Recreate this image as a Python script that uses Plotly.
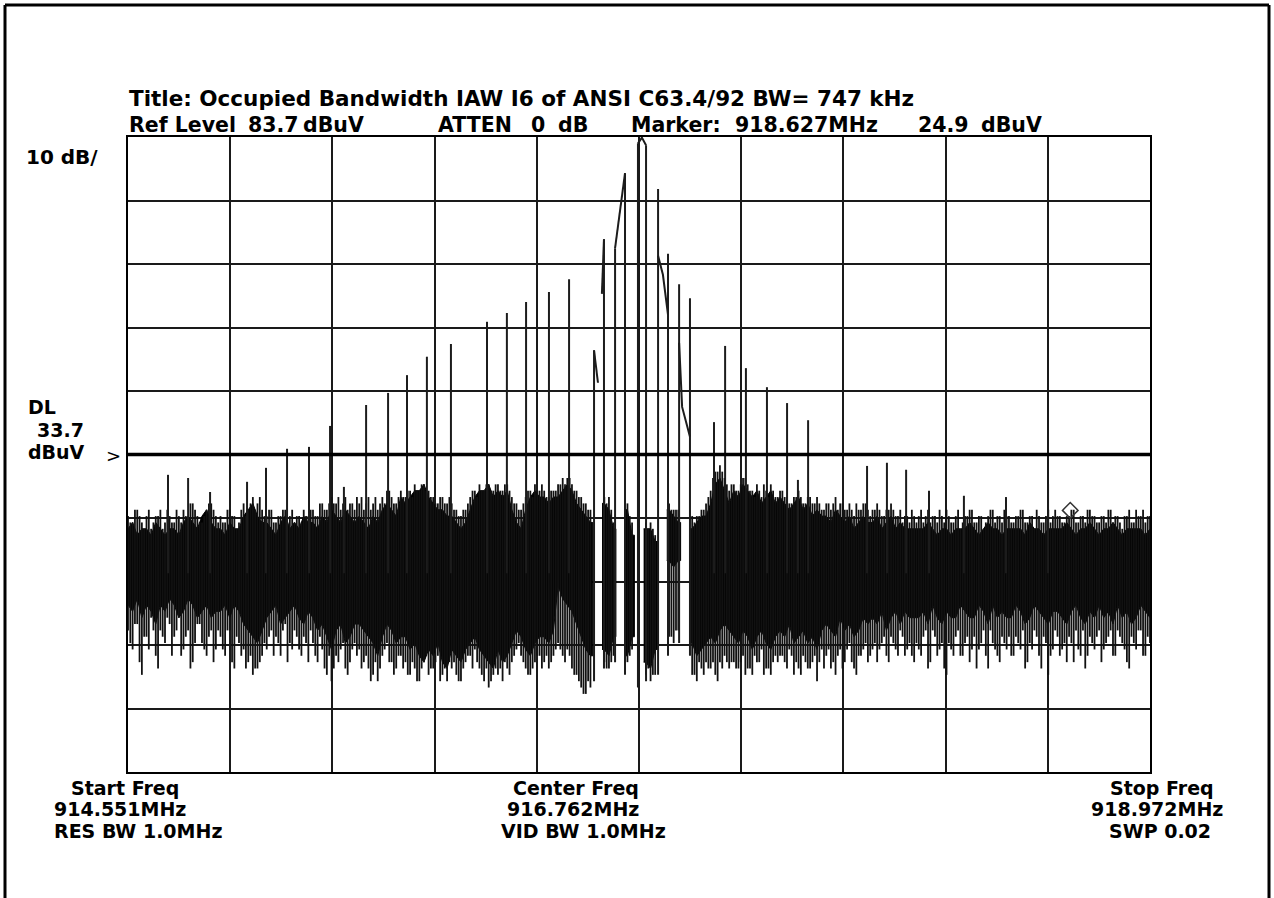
import numpy as np
import plotly.graph_objects as go

# ---------------- instrument settings ----------------
START_MHZ = 914.551
CENTER_MHZ = 916.762
STOP_MHZ = 918.972
REF_LEVEL = 83.7          # dBuV, top of screen
DB_PER_DIV = 10
DISPLAY_LINE = 33.7       # dBuV
MARKER_MHZ = 918.627
MARKER_DB = 24.9

# ---------------- noise floor, per sweep column (dBuV) ----------------
# fuzz peaks / valleys at each sweep column
noise_hi = [24, 23, 25, 23, 24, 22, 24, 25, 23, 24,
            23, 24, 25, 24, 26, 24, 23, 25, 26, 24,
            24, 23, 25, 24, 23, 26, 25, 27, 26, 25,
            24, 25, 23, 24, 25, 24, 23, 24, 25, 24,
            25, 24, 26, 25, 27, 26, 25, 27, 26, 25,
            26, 25, 27, 26, 25, 27, 28, 27, 26, 28,
            27, 28, 29, 28, 29, 28, 27, 26, 27, 26,
            26, 25, 24, 25, 27, 28, 29, 28, 29, 28,
            29, 28, 29, 27, 26, 25, 27, 28, 29, 28,
            28, 27, 28,
            29, 30, 30, 29, 28, 27, 26, 25, None, None,
            27, 27, 23, None, None, 26, 23, None, None, 23,
            23, 21, None, None, 26, 25, 25, None, None, 24,
            24, 25, 26, 28, 31, 32, 30, 28,
            29, 28, 30, 29, 28, 29, 27, 28, 29, 27,
            28, 27, 26, 27, 28, 26, 27, 26, 27, 25,
            26, 25, 27, 26, 25, 26, 24, 25, 26, 25,
            25, 26, 24, 25, 26, 24, 25, 24, 23, 24,
            24, 23, 25, 24, 23, 24, 25, 23, 24, 22,
            24, 25, 23, 24, 22, 24, 25, 24, 23, 24,
            23, 24, 25, 23, 24, 22, 24, 23, 25, 24,
            24, 23, 24, 25, 23, 24, 23, 25, 24, 23,
            24, 25, 23, 24, 22, 24, 23, 25, 24, 23, 24]

noise_lo = [6, 3, 7, -1, 5, 8, 2, 6, 4, 7,
            5, 8, 3, 6, 1, 7, 4, 2, 6, 3,
            5, 2, 6, 0, 4, 3, 1, -1, 0, 2,
            3, 6, 5, 2, 7, 4, 6, 3, 5, 1,
            4, 1, 3, -1, -2, 2, 3, 0, 1, 4,
            3, 1, 0, -1, -2, 2, 4, 1, 0, 2,
            1, -1, 0, -2, 1, -1, 0, 2, -1, -2,
            0, -1, -2, 1, 2, 3, 0, -2, -3, -1,
            -1, -2, 0, 1, 3, 2, 0, -1, 1, 2,
            1, 0, 2,
            4, 2, 3, 0, -1, -3, -4, -3, None, None,
            1, 0, 2, None, None, 1, 3, None, None, -1,
            -2, -1, None, None, 5, 4, 6, None, None, -1,
            -2, 0, 1, 0, -1, 1, 2, 0,
            1, 0, 2, 0, -1, 1, 3, 0, -1, 2,
            2, 1, 3, -1, 0, 2, 0, 1, -2, 3,
            2, 0, -1, 3, 1, 4, 0, 2, 3, 1,
            3, 1, 4, 2, 5, 3, 6, 2, 4, 1,
            3, 5, 0, 6, 2, 4, -1, 3, 5, 2,
            4, 1, 5, 3, 6, 0, 4, 2, 5, 3,
            2, 5, 3, 0, 4, 6, 2, 5, -1, 3,
            5, 3, 1, 4, 6, 2, 0, 5, 3, 6,
            3, 5, 2, 6, 4, 1, 5, 3, 6, 2, 4]

# dense (solid) part of the noise band at each sweep column
core_hi = [22, 23, 21, 22, 22, 21, 23, 22, 21, 22,
           22, 21, 23, 24, 23, 22, 24, 25, 23, 22,
           22, 21, 23, 22, 22, 24, 25, 26, 24, 23,
           23, 22, 21, 23, 24, 22, 23, 22, 24, 23,
           23, 22, 24, 23, 25, 24, 23, 25, 24, 23,
           24, 23, 22, 24, 23, 25, 26, 25, 24, 27,
           26, 27, 28, 28, 29, 27, 26, 25, 25, 24,
           24, 23, 22, 23, 25, 27, 28, 28, 29, 27,
           28, 27, 28, 25, 23, 22, 25, 27, 28, 27,
           27, 26, 27,
           27, 28, 29, 28, 26, 25, 24, 23, None, None,
           26, 25, 22, None, None, 25, 21, None, None, 22,
           22, 20, None, None, 25, 24, 23, None, None, 22,
           23, 24, 24, 26, 29, 30, 28, 26,
           28, 27, 29, 28, 27, 28, 26, 27, 28, 26,
           27, 26, 25, 26, 27, 25, 26, 24, 25, 24,
           24, 23, 25, 24, 23, 24, 22, 23, 24, 23,
           23, 24, 22, 23, 24, 22, 23, 22, 22, 22,
           22, 22, 23, 22, 21, 22, 22, 21, 22, 22,
           22, 23, 22, 21, 22, 23, 22, 22, 21, 22,
           22, 22, 22, 21, 23, 22, 22, 21, 22, 22,
           22, 22, 23, 22, 21, 22, 22, 23, 22, 21,
           22, 22, 23, 22, 21, 22, 22, 22, 22, 21, 22]

core_lo = [10, 9, 11, 8, 10, 9, 7, 10, 9, 11,
           10, 8, 9, 11, 10, 8, 9, 10, 8, 9,
           9, 10, 8, 10, 9, 7, 6, 5, 4, 6,
           8, 9, 10, 7, 8, 9, 10, 8, 7, 9,
           8, 6, 7, 5, 3, 6, 7, 4, 5, 7,
           7, 6, 5, 4, 2, 5, 7, 6, 4, 5,
           5, 3, 4, 2, 1, 3, 2, 4, 1, 0,
           3, 2, 1, 3, 4, 5, 3, 2, 1, 0,
           3, 1, 2, 4, 6, 5, 3, 2, 4, 5,
           5, 4, 6,
           13, 11, 10, 9, 7, 5, 3, 2, None, None,
           3, 2, 5, None, None, 2, 5, None, None, 1,
           0, 3, None, None, 17, 16, 17, None, None, 4,
           2, 3, 4, 5, 4, 6, 7, 6,
           5, 4, 6, 5, 3, 5, 6, 4, 3, 5,
           6, 5, 7, 4, 5, 6, 4, 5, 3, 6,
           7, 6, 5, 8, 6, 7, 5, 6, 8, 7,
           8, 7, 9, 6, 8, 9, 7, 9, 8, 8,
           8, 9, 7, 10, 8, 7, 9, 8, 8, 10,
           9, 8, 8, 10, 9, 7, 10, 8, 9, 8,
           8, 10, 9, 7, 8, 10, 9, 8, 7, 9,
           9, 8, 7, 9, 10, 8, 7, 9, 8, 10,
           8, 9, 7, 10, 8, 9, 7, 8, 10, 9, 8]

# fuzz peaks / valleys half way between sweep columns
noise_hi2 = [23, 25, 24, 22, 25, 23, 24, 22, 25, 23,
             25, 23, 24, 26, 25, 23, 24, 26, 25, 23,
             23, 25, 24, 22, 25, 24, 26, 25, 27, 24,
             25, 23, 24, 25, 23, 25, 24, 23, 24, 25,
             24, 26, 25, 26, 26, 27, 26, 25, 26, 27,
             27, 26, 25, 27, 26, 26, 28, 26, 27, 27,
             28, 27, 28, 29, 28, 27, 26, 27, 26, 27,
             25, 24, 25, 26, 28, 27, 28, 29, 28, 29,
             28, 29, 28, 26, 25, 26, 28, 27, 28, 29,
             27, 28, 28, 29, 29, 30, 28, 27, 26, 25,
             None, None, None, 26, 25, None, None, None, 24, None,
             None, None, 22, 22, None, None, None, 25, 25, None,
             None, None, 23, 24, 25, 27, 30, 31, 31, 29,
             29, 28, 29, 30, 28, 27, 28, 29, 27, 28,
             27, 28, 27, 26, 27, 27, 26, 27, 26, 26,
             25, 26, 26, 25, 26, 25, 25, 26, 25, 26,
             24, 25, 25, 24, 25, 25, 24, 23, 24, 25,
             23, 25, 24, 23, 24, 25, 23, 24, 23, 25,
             23, 24, 25, 23, 24, 23, 25, 23, 24, 25,
             24, 23, 24, 25, 23, 24, 25, 23, 24, 23,
             25, 24, 23, 24, 25, 23, 24, 25, 24, 23,
             24, 23, 25, 24, 23, 24, 25, 23, 24, 25, 24]

noise_lo2 = [4, 7, 1, 5, 3, 6, 0, 5, 8, 2,
             6, 2, 5, 0, 4, 7, 3, 5, 1, 6,
             3, 6, 1, 5, 2, 0, 2, 0, 1, 4,
             5, 2, 4, 6, 1, 3, 5, 2, 4, 6,
             2, 5, 0, 2, 0, 1, 4, -1, 3, 2,
             0, 2, -2, 1, 0, 3, 1, -1, 2, 0,
             -1, 1, -2, 0, 2, 0, 1, -2, 0, 1,
             1, -2, 0, 2, 0, 1, -1, 0, -2, 0,
             0, 1, -1, 2, 4, 1, -1, 0, 2, 0,
             2, 1, 3, 3, 1, 2, -1, -2, -4, -2,
             None, None, None, 0, 1, None, None, None, 2, None,
             None, None, 0, -1, None, None, None, 5, 6, None,
             None, None, -1, 1, -1, 0, 1, -2, 0, 1,
             1, 0, 1, -1, 0, 2, 1, -1, 0, 1,
             1, 2, 0, 2, 1, -1, 1, 0, 2, 1,
             0, 3, 1, 2, 0, 3, 1, -1, 2, 4,
             2, 4, 3, 5, 1, 4, 2, 5, 3, 2,
             4, 2, 6, 1, 5, 3, 0, 4, 2, 6,
             2, 5, 3, 0, 4, 2, 6, 3, 1, 4,
             5, 2, 4, 6, 1, 3, 5, 0, 4, 2,
             6, 2, 4, 5, 1, 3, 6, 2, 4, 5,
             1, 4, 6, 2, 5, 3, 0, 4, 6, 2, 5]

# ---------------- discrete spectral lines ----------------
spike_freq = [914.724, 914.811, 914.906, 915.066, 915.148, 915.239, 915.334, 915.425,
              915.485, 915.581, 915.676, 915.758, 915.844, 915.948, 916.104, 916.190,
              916.273, 916.372, 916.459, 916.567, 916.610, 916.658, 916.701, 916.757,
              916.792, 916.844, 916.887, 916.935, 916.982, 917.086, 917.134, 917.224,
              917.315, 917.402, 917.449, 917.493, 917.748, 917.834, 917.917, 918.016,
              918.167, 918.349, 918.531]
spike_peak = [30.5, 30.0, 27.8, 29.4, 31.6, 34.6, 34.9, 38.2,
              28.6, 41.5, 43.4, 46.2, 49.1, 51.1, 54.6, 56.0,
              57.7, 59.3, 61.3, 50.1, 67.6, 66.2, 78.0, 82.7,
              82.4, 75.5, 65.3, 60.5, 58.3, 38.8, 50.8, 47.3,
              44.3, 41.8, 29.7, 39.1, 31.9, 32.4, 31.3, 28.0,
              27.2, 27.0, 29.1]
spike_base = [15, 15, 15, 15, 15, 15, 15, 15,
              15, 15, 15, 15, 15, 15, 15, 15,
              15, 15, 15, -2, 0, 1, -1, -3,
              -2, -1, 2, 4, 2, 15, 15, 15,
              15, 15, 15, 15, 15, 15, 15, 15,
              15, 15, 15]

# sloped trace segments joining the central lines
path_freq = [916.567, 916.584, None,
             916.601, 916.610, None,
             916.658, 916.701, None,
             916.757, 916.774, 916.792, None,
             916.844, 916.865, 916.887, None,
             916.935, 916.948, 916.982]
path_db = [50.1, 45.0, None,
           59.0, 67.6, None,
           66.2, 78.0, None,
           82.7, 83.6, 82.4, None,
           65.0, 62.0, 55.7, None,
           51.3, 41.2, 36.5]

# ---------------- build figure ----------------
W, H = 1274, 898
L, R, T, B = 128, 124, 137, 126
PW, PH = W - L - R, H - T - B


def px(x):
    return (x - L) / PW


def py(y):
    return (H - B - y) / PH


n = len(noise_hi)
sweep = np.linspace(START_MHZ, STOP_MHZ, n)
step = (STOP_MHZ - START_MHZ) / (n - 1)

# solid core: one filled polygon per contiguous run of columns
cx, cy = [], []
run = []
for f, hi, lo in list(zip(sweep, core_hi, core_lo)) + [(None, None, None)]:
    if hi is not None:
        run.append((f, hi, lo))
        continue
    if run:
        top_x = [run[0][0] - step / 2] + [r[0] for r in run] + [run[-1][0] + step / 2]
        top_y = [run[0][1]] + [r[1] for r in run] + [run[-1][1]]
        bot_y = [run[0][2]] + [r[2] for r in run] + [run[-1][2]]
        cx += top_x + top_x[::-1] + [None]
        cy += top_y + bot_y[::-1] + [None]
        run = []

fx, fy = [], []
for f, hi, lo in zip(sweep, noise_hi, noise_lo):
    if hi is None:
        continue
    fx += [f, f, None]
    fy += [lo, hi, None]
for f, hi, lo in zip(sweep[:-1] + step / 2, noise_hi2, noise_lo2):
    if hi is None:
        continue
    fx += [f, f, None]
    fy += [lo, hi, None]

sx, sy = [], []
for f, pk, base in zip(spike_freq, spike_peak, spike_base):
    sx += [f, f, None]
    sy += [base, pk, None]

fig = go.Figure()
fig.add_trace(go.Scatter(x=cx, y=cy, mode='lines', fill='toself',
                         fillcolor='black', line=dict(color='black', width=1),
                         hoverinfo='skip'))
fig.add_trace(go.Scatter(x=fx, y=fy, mode='lines',
                         line=dict(color='#111111', width=1.8),
                         hoverinfo='skip'))
fig.add_trace(go.Scatter(x=sx, y=sy, mode='lines',
                         line=dict(color='#1c1c1c', width=2),
                         hoverinfo='skip'))
fig.add_trace(go.Scatter(x=path_freq, y=path_db, mode='lines',
                         line=dict(color='#1c1c1c', width=2),
                         hoverinfo='skip'))
fig.add_trace(go.Scatter(x=[MARKER_MHZ], y=[MARKER_DB], mode='markers',
                         marker=dict(symbol='diamond-open', size=12,
                                     color='#333', line=dict(width=1.5)),
                         hoverinfo='skip'))


def label(text, x, y, anchor='left', size=20, weight='bold'):
    fig.add_annotation(text=text, x=px(x), y=py(y), xref='paper', yref='paper',
                       xanchor=anchor, yanchor='middle', showarrow=False,
                       font=dict(family='DejaVu Sans', size=size, color='black',
                                 weight=weight))


label('Title: Occupied Bandwidth IAW I6 of ANSI C63.4/92 BW= 747 kHz', 127, 99, size=21.5)
for txt, x in [('Ref Level', 127), ('83.7', 246), ('dBuV', 301), ('ATTEN', 436),
               ('0', 529), ('dB', 556), ('Marker:', 629), ('918.627MHz', 733),
               ('24.9', 916), ('dBuV', 979)]:
    label(txt, x, 125, size=20.5)

label('10 dB/', 24, 157)
label('DL', 26, 407, size=19)
label('33.7', 35, 429.5, size=19)
label('dBuV', 26, 452, size=19)
label('>', 104, 455, weight='normal', size=18)

rows = [788, 809.5, 831]
for txt, y in zip(['Start Freq', '914.551MHz', 'RES BW 1.0MHz'], rows):
    label(txt, {'Start Freq': 69}.get(txt, 52), y, size=19)
for txt, x, y in zip(['Center Freq', '916.762MHz', 'VID BW 1.0MHz'], [576, 573, 583], rows):
    label(txt, x, y, anchor='center', size=19)
for txt, x, y in zip(['Stop Freq', '918.972MHz', 'SWP 0.02'], [1216, 1225, 1213], rows):
    label(txt, x, y, anchor='right', size=19)

# display line
fig.add_shape(type='line', xref='x', yref='y', x0=START_MHZ, x1=STOP_MHZ,
              y0=DISPLAY_LINE, y1=DISPLAY_LINE, line=dict(color='black', width=3.5))

# outer frame of the screen capture (top, left, right)
for x0, y0, x1, y1 in [(5, 5, 1269, 5), (5, 5, 5, 898), (1269, 5, 1269, 898)]:
    fig.add_shape(type='line', xref='paper', yref='paper',
                  x0=px(x0), y0=py(y0), x1=px(x1), y1=py(y1),
                  line=dict(color='black', width=3))

axis_common = dict(showgrid=True, gridcolor='#1a1a1a', gridwidth=2,
                   showticklabels=False, ticks='', zeroline=False,
                   showline=True, mirror=True, linecolor='black', linewidth=2)

fig.update_layout(
    width=W, height=H,
    margin=dict(l=L, r=R, t=T, b=B),
    paper_bgcolor='white', plot_bgcolor='white',
    showlegend=False,
    xaxis=dict(range=[START_MHZ, STOP_MHZ], tick0=START_MHZ,
               dtick=(STOP_MHZ - START_MHZ) / 10, **axis_common),
    yaxis=dict(range=[REF_LEVEL - 10 * DB_PER_DIV, REF_LEVEL], tick0=REF_LEVEL,
               dtick=DB_PER_DIV, **axis_common),
)

fig.write_html('out.html', config={'displayModeBar': False},
               post_script="document.body.style.margin='0px';document.body.style.padding='0px';")
